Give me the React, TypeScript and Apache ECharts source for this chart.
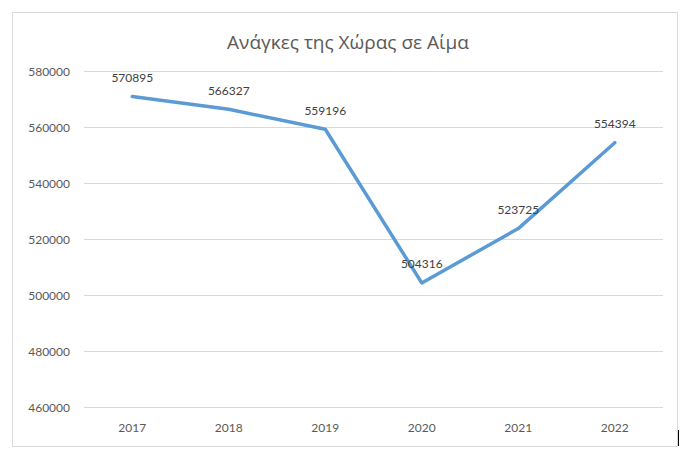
import React, { useEffect, useRef } from "react";
import * as echarts from "echarts";

const title = "Ανάγκες της Χώρας σε Αίμα";
const years = ["2017", "2018", "2019", "2020", "2021", "2022"];
const needs = [570895, 566327, 559196, 504316, 523725, 554394];
const yMin = 460000;
const yMax = 580000;
const yStep = 20000;

export default function App() {
  const ref = useRef<HTMLDivElement>(null);
  useEffect(() => {
    if (!ref.current) return;
    const chart = echarts.init(ref.current, null, { renderer: "svg" });
    const font = "Lato, 'Open Sans', 'Noto Sans', sans-serif";
    chart.setOption({
      animation: false,
      backgroundColor: "#ffffff",
      title: {
        text: title,
        left: "center",
        top: 27,
        textStyle: {
          fontFamily: "'Open Sans', 'Noto Sans', sans-serif",
          fontSize: 19,
          fontWeight: "normal",
          color: "#595959",
        },
      },
      grid: { left: 84, right: 33, top: 71, bottom: 55, containLabel: false },
      xAxis: {
        type: "category",
        data: years,
        boundaryGap: true,
        axisLine: { show: false },
        axisTick: { show: false },
        axisLabel: { color: "#595959", fontSize: 12, fontFamily: font, margin: 14 },
      },
      yAxis: {
        type: "value",
        min: yMin,
        max: yMax,
        interval: yStep,
        axisLine: { show: false },
        axisTick: { show: false },
        axisLabel: {
          color: "#595959",
          fontSize: 12,
          fontFamily: font,
          margin: 14,
          formatter: (v: number) => String(v),
        },
        splitLine: { lineStyle: { color: "#d9d9d9", width: 1 } },
      },
      series: [
        {
          type: "line",
          data: needs,
          symbol: "circle",
          symbolSize: 2,
          showSymbol: true,
          itemStyle: { color: "rgba(91,155,213,0)", borderWidth: 0 },
          lineStyle: { color: "#5b9bd5", width: 3.5, cap: "round", join: "round" },
          label: {
            show: true,
            position: "top",
            distance: 12,
            color: "#404040",
            fontSize: 12,
            fontFamily: font,
            formatter: (p: any) => String(p.value),
          },
        },
      ],
      graphic: [
        {
          type: "rect",
          shape: { x: 12.5, y: 12.5, width: 665, height: 434 },
          style: { fill: "none", stroke: "#d9d9d9", lineWidth: 1 },
          silent: true,
        },
        {
          type: "line",
          shape: { x1: 678.5, y1: 430, x2: 678.5, y2: 446 },
          style: { stroke: "#000000", lineWidth: 1 },
          silent: true,
        },
      ],
    });
    return () => chart.dispose();
  }, []);
  return (
    <div
      ref={ref}
      style={{ position: "fixed", left: 0, top: 0, width: 696, height: 462 }}
    />
  );
}
